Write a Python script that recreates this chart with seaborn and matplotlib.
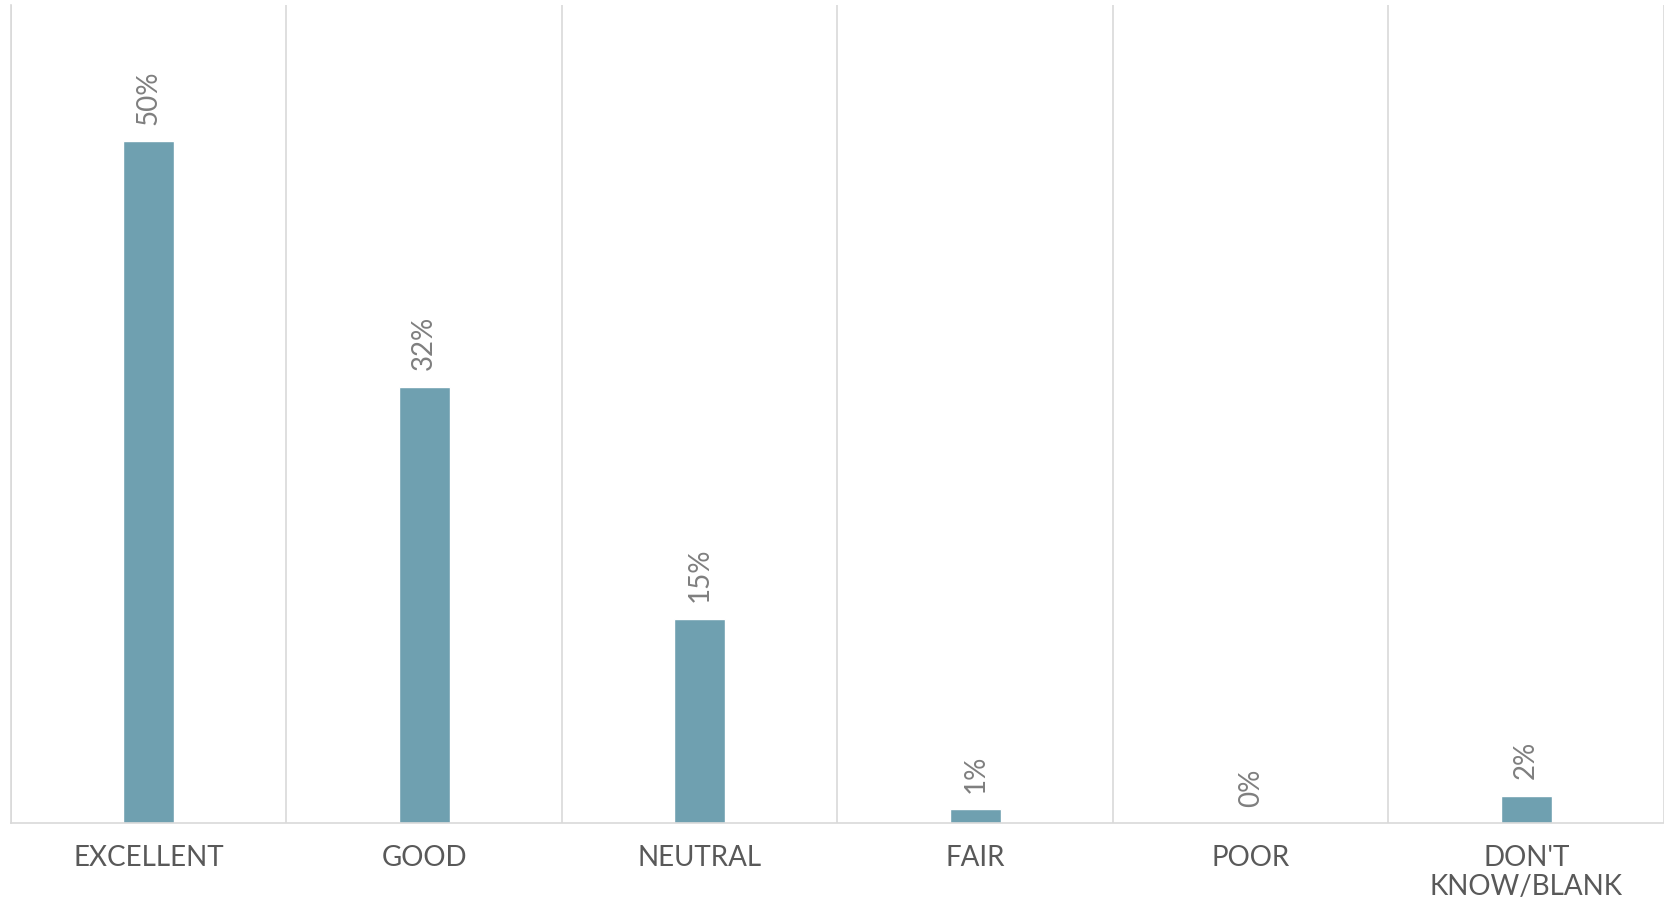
import matplotlib
matplotlib.use("Agg")
import matplotlib.pyplot as plt
import seaborn as sns
import pandas as pd
import numpy as np

categories = ["EXCELLENT", "GOOD", "NEUTRAL", "FAIR", "POOR", "DON'T\nKNOW/BLANK"]
values = [50, 32, 15, 1, 0, 2]

stats = pd.DataFrame({"rating": categories, "pct": values})

sns.set_style("white")
plt.rcParams["font.family"] = ["Lato", "DejaVu Sans"]

fig = plt.figure(figsize=(16.65, 9.01), dpi=100)
ax = fig.add_axes([11 / 1665, 1 - 823 / 901, (1664 - 11) / 1665, (823 - 5) / 901])

sns.barplot(data=stats, x="rating", y="pct", color="#6fa0b0", width=0.185,
            saturation=1, ax=ax)

ax.set_xlim(-0.5, 5.5)
ax.set_ylim(0, 60)

# category separators
ax.set_xticks(np.arange(-0.5, 6, 1), minor=True)
ax.grid(which="minor", axis="x", color="#d9d9d9", linewidth=1.2)
ax.grid(which="major", visible=False)
ax.set_axisbelow(True)

# value labels
for i, v in enumerate(values):
    ax.text(i, v + 1.2, f"{v}%", rotation=90, ha="center", va="bottom",
            fontsize=20, color="#7f7f7f")

ax.set_xlabel("")
ax.set_ylabel("")
ax.set_yticks([])
ax.tick_params(axis="x", which="both", length=0, pad=16, labelsize=20,
               labelcolor="#595959")
for lbl in ax.get_xticklabels():
    lbl.set_linespacing(1.15)

for side in ["top", "right"]:
    ax.spines[side].set_visible(False)
for side in ["left", "bottom"]:
    ax.spines[side].set_color("#d9d9d9")
    ax.spines[side].set_linewidth(1.2)

fig.savefig("out.png", dpi=100)
